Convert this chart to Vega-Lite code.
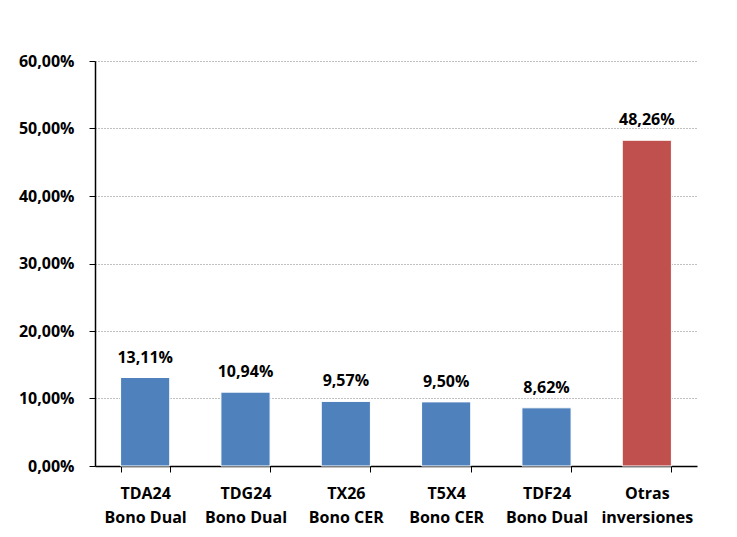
{
  "$schema": "https://vega.github.io/schema/vega-lite/v6.json",
  "width": 602,
  "height": 405,
  "autosize": {"type": "none"},
  "padding": {"left": 95, "top": 61, "right": 40, "bottom": 71},
  "background": "white",
  "config": {
    "locale": {"number": {"decimal": ",", "thousands": ".", "grouping": [3], "currency": ["$", ""]}},
    "view": {"stroke": null},
    "font": "Open Sans"
  },
  "data": {
    "values": [
      {"cat": "TDA24|Bono Dual", "value": 0.1311, "grp": "a"},
      {"cat": "TDG24|Bono Dual", "value": 0.1094, "grp": "a"},
      {"cat": "TX26|Bono CER", "value": 0.0957, "grp": "a"},
      {"cat": "T5X4|Bono CER", "value": 0.0950, "grp": "a"},
      {"cat": "TDF24|Bono Dual", "value": 0.0862, "grp": "a"},
      {"cat": "Otras|inversiones", "value": 0.4826, "grp": "b"}
    ]
  },
  "encoding": {
    "x": {
      "field": "cat",
      "type": "nominal",
      "sort": null,
      "scale": {"paddingInner": 0.51, "paddingOuter": 0.255},
      "axis": {
        "title": null,
        "labelAngle": 0,
        "labelExpr": "split(datum.label, '|')",
        "labelFont": "Open Sans",
        "labelFontWeight": "bold",
        "labelFontSize": 16,
        "labelColor": "black",
        "labelBaseline": "alphabetic",
        "labelPadding": 26,
        "labelLineHeight": 24,
        "tickBand": "extent",
        "tickSize": 6,
        "tickColor": "black",
        "domainColor": "black",
        "domainWidth": 1.5,
        "grid": false
      }
    },
    "y": {
      "field": "value",
      "type": "quantitative",
      "scale": {"domain": [0, 0.6], "nice": false},
      "axis": {
        "title": null,
        "format": ".2%",
        "values": [0, 0.1, 0.2, 0.3, 0.4, 0.5, 0.6],
        "labelFont": "Open Sans",
        "labelFontWeight": "bold",
        "labelFontSize": 16,
        "labelColor": "black",
        "labelPadding": 15,
        "tickSize": 6,
        "tickColor": "black",
        "domainColor": "black",
        "domainWidth": 1.5,
        "grid": true,
        "gridColor": "#808080",
        "gridDash": [1, 2],
        "gridWidth": 1
      }
    }
  },
  "layer": [
    {
      "mark": {"type": "bar", "stroke": "white", "strokeWidth": 1},
      "encoding": {
        "color": {
          "field": "grp",
          "type": "nominal",
          "scale": {"domain": ["a", "b"], "range": ["#4F81BD", "#C0504D"]},
          "legend": null
        }
      }
    },
    {
      "mark": {"type": "text", "baseline": "alphabetic", "dy": -15, "fontWeight": "bold", "fontSize": 16, "font": "Open Sans", "color": "black"},
      "encoding": {
        "text": {"field": "value", "type": "quantitative", "format": ".2%"}
      }
    }
  ]
}
